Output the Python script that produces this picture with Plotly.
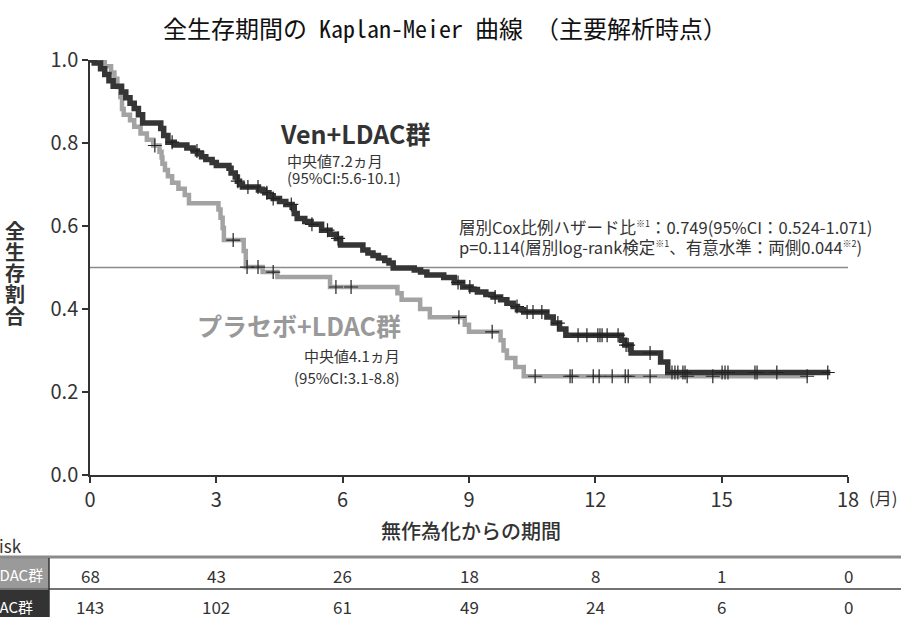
import plotly.graph_objects as go

# ---------------- data ----------------
ven_t = [0, 0.10, 0.25, 0.35, 0.45, 0.55, 0.75, 0.85, 0.95, 1.05, 1.15, 1.25, 1.68, 1.75, 1.85,
         2.00, 2.30, 2.45, 2.55, 2.65, 2.75, 2.90, 3.00, 3.30, 3.35, 3.45, 3.50, 3.55, 3.62,
         4.00, 4.15, 4.25, 4.35, 4.50, 4.65, 4.80, 4.85, 4.92, 5.10, 5.25, 5.50, 5.70, 5.85, 5.95,
         6.48, 6.60, 6.72, 6.85, 7.00, 7.10, 7.20, 7.70, 7.85, 8.00, 8.40, 8.65, 8.85, 9.05, 9.20,
         9.40, 9.57, 9.75, 9.90, 10.05, 10.15, 10.30, 10.85, 11.00, 11.15, 11.30, 12.62, 12.70,
         12.85, 13.55, 13.72]
ven_s = [1.0, 0.993, 0.979, 0.965, 0.950, 0.937, 0.923, 0.909, 0.896, 0.883, 0.868, 0.848, 0.835, 0.818, 0.802,
         0.795, 0.788, 0.781, 0.774, 0.767, 0.760, 0.753, 0.746, 0.739, 0.728, 0.718, 0.708, 0.700, 0.694,
         0.687, 0.680, 0.673, 0.666, 0.659, 0.652, 0.645, 0.630, 0.618, 0.611, 0.604, 0.590, 0.580, 0.570, 0.554,
         0.542, 0.535, 0.529, 0.523, 0.517, 0.511, 0.499, 0.494, 0.489, 0.482, 0.476, 0.464, 0.453, 0.447, 0.441,
         0.435, 0.429, 0.422, 0.414, 0.406, 0.398, 0.393, 0.381, 0.366, 0.352, 0.337, 0.325, 0.313,
         0.294, 0.272, 0.247]
ven_end = 17.58
ven_cens = [1.95, 2.54, 3.51, 3.75, 3.99, 4.20, 4.35, 4.78, 5.27, 5.64, 5.89, 8.74, 9.02, 9.62,
            10.14, 10.38, 10.52, 10.73, 11.11, 11.59, 11.80, 12.06, 12.11, 12.16, 12.28, 12.54,
            12.73, 12.78, 13.30, 13.82, 13.89, 13.96, 14.08, 14.13, 15.01, 15.08, 15.15, 15.79,
            15.84, 16.31, 17.52]

pla_t = [0, 0.35, 0.50, 0.58, 0.65, 0.72, 0.76, 0.80, 0.95, 1.05, 1.20, 1.35, 1.50, 1.65, 1.70,
         1.72, 1.78, 1.85, 1.95, 2.10, 2.25, 2.35, 3.05, 3.10, 3.15, 3.18, 3.65, 3.70, 4.10, 4.45,
         5.70, 7.30, 7.40, 7.84, 8.07, 8.90, 9.00, 9.75, 9.82, 9.90, 10.10, 10.30]
pla_s = [1.0, 0.985, 0.970, 0.955, 0.935, 0.911, 0.882, 0.868, 0.855, 0.839, 0.823, 0.808, 0.794, 0.779, 0.765,
         0.750, 0.735, 0.720, 0.704, 0.690, 0.675, 0.655, 0.640, 0.620, 0.595, 0.566, 0.540, 0.501, 0.489, 0.477,
         0.453, 0.438, 0.422, 0.400, 0.380, 0.362, 0.345, 0.325, 0.300, 0.282, 0.260, 0.238]
pla_end = 17.05
pla_cens = [1.54, 3.40, 3.73, 3.99, 4.35, 5.84, 6.20, 8.76, 9.55, 10.57, 11.40, 11.45, 11.95,
            12.09, 12.40, 12.71, 12.78, 13.30, 14.18, 14.79, 17.03]

risk_times = [0, 3, 6, 9, 12, 15, 18]
pla_risk = [68, 43, 26, 18, 8, 1, 0]
ven_risk = [143, 102, 61, 49, 24, 6, 0]

x_ticks = [0, 3, 6, 9, 12, 15, 18]
y_ticks = [0.0, 0.2, 0.4, 0.6, 0.8, 1.0]

title_text = "全生存期間の Kaplan-Meier 曲線 （主要解析時点）"
ylabel_chars = ["全", "生", "存", "割", "合"]
xlabel = "無作為化からの期間"

# ---------------- helpers ----------------
def step_value(ts, ss, c):
    v = ss[0]
    for t, s in zip(ts, ss):
        if t <= c:
            v = s
    return v

DARK = "#353535"
GREY = "#a3a3a3"
FONT = "Noto Sans CJK JP"
SUP = '<sup><span style="font-size:9px">%s</span></sup>'

fig = go.Figure()

fig.add_trace(go.Scatter(x=pla_t + [pla_end], y=pla_s + [pla_s[-1]], mode="lines",
                         line=dict(color=GREY, width=4.5, shape="hv"), showlegend=False))
fig.add_trace(go.Scatter(x=ven_t + [ven_end], y=ven_s + [ven_s[-1]], mode="lines",
                         line=dict(color=DARK, width=5.5, shape="hv"), showlegend=False))
fig.add_trace(go.Scatter(x=pla_cens, y=[step_value(pla_t, pla_s, c) for c in pla_cens], mode="markers",
                         marker=dict(symbol="cross-thin", size=10, line=dict(color="#222", width=1.2)),
                         showlegend=False))
fig.add_trace(go.Scatter(x=ven_cens, y=[step_value(ven_t, ven_s, c) for c in ven_cens], mode="markers",
                         marker=dict(symbol="cross-thin", size=10, line=dict(color="#222", width=1.2)),
                         showlegend=False))

# median line
fig.add_shape(type="line", xref="x", yref="y", x0=0, x1=18, y0=0.5, y1=0.5,
              line=dict(color="#8a8a8a", width=1.5), layer="below")

ann = []
ann.append(dict(text="Ven+LDAC群", x=4.46, y=0.824, xref="x", yref="y", xanchor="left", yanchor="middle",
                showarrow=False, font=dict(family=FONT, size=25, color="#333", weight="bold")))
ann.append(dict(text="中央値7.2ヵ月", x=4.63, y=0.759, xref="x", yref="y", xanchor="left", yanchor="middle",
                showarrow=False, font=dict(family=FONT, size=15, color="#333")))
ann.append(dict(text="(95%CI:5.6-10.1)", x=4.63, y=0.716, xref="x", yref="y", xanchor="left", yanchor="middle",
                showarrow=False, font=dict(family=FONT, size=15, color="#333")))
ann.append(dict(text="プラセボ+LDAC群", x=7.43, y=0.361, xref="x", yref="y", xanchor="right", yanchor="middle",
                showarrow=False, font=dict(family=FONT, size=25, color="#999", weight="bold")))
ann.append(dict(text="中央値4.1ヵ月", x=7.41, y=0.287, xref="x", yref="y", xanchor="right", yanchor="middle",
                showarrow=False, font=dict(family=FONT, size=15, color="#333")))
ann.append(dict(text="(95%CI:3.1-8.8)", x=7.41, y=0.234, xref="x", yref="y", xanchor="right", yanchor="middle",
                showarrow=False, font=dict(family=FONT, size=15, color="#333")))
ann.append(dict(text="層別Cox比例ハザード比" + SUP % "※1" + "：0.749(95%CI：0.524-1.071)", x=8.72, y=0.597,
                xref="x", yref="y", xanchor="left", yanchor="middle",
                showarrow=False, font=dict(family=FONT, size=16.5, color="#333")))
ann.append(dict(text="p=0.114(層別log-rank検定" + SUP % "※1" + "、有意水準：両側0.044" + SUP % "※2" + ")",
                x=8.72, y=0.550, xref="x", yref="y", xanchor="left", yanchor="middle",
                showarrow=False, font=dict(family=FONT, size=16.5, color="#333")))

# y-axis title, stacked characters
for i, ch in enumerate(ylabel_chars):
    py = 230 + i * 21.25
    ann.append(dict(text=ch, x=(15 - 90) / 758, y=(475 - py) / 415, xref="paper", yref="paper",
                    xanchor="center", yanchor="middle", showarrow=False,
                    font=dict(family=FONT, size=20, color="#333", weight="bold")))
# x-axis title
ann.append(dict(text=xlabel, x=(471 - 90) / 758, y=(475 - 530) / 415, xref="paper", yref="paper",
                xanchor="center", yanchor="middle", showarrow=False,
                font=dict(family=FONT, size=20, color="#333", weight=500)))
# unit
ann.append(dict(text="(月)", x=(900 - 90) / 758, y=(475 - 497) / 415, xref="paper", yref="paper",
                xanchor="right", yanchor="middle", showarrow=False,
                font=dict(family=FONT, size=17, color="#333")))

# at-risk table
def py2p(py):
    return (475 - py) / 415

def px2p(px):
    return (px - 90) / 758

ann.append(dict(text="No. at risk", x=px2p(24), y=py2p(545), xref="paper", yref="paper",
                xanchor="right", yanchor="middle", showarrow=False,
                font=dict(family=FONT, size=17, color="#333")))
fig.add_shape(type="rect", xref="paper", yref="paper", x0=px2p(-2), x1=px2p(49), y0=py2p(558), y1=py2p(588),
              fillcolor="#9a9a9a", line=dict(width=0))
fig.add_shape(type="rect", xref="paper", yref="paper", x0=px2p(-2), x1=px2p(49), y0=py2p(590), y1=py2p(620),
              fillcolor="#333333", line=dict(width=0))
fig.add_shape(type="line", xref="paper", yref="paper", x0=px2p(-2), x1=px2p(905), y0=py2p(557), y1=py2p(557),
              line=dict(color="#8a8a8a", width=3))
fig.add_shape(type="line", xref="paper", yref="paper", x0=px2p(-2), x1=px2p(905), y0=py2p(589), y1=py2p(589),
              line=dict(color="#444", width=1.5))
fig.add_shape(type="line", xref="paper", yref="paper", x0=px2p(49), x1=px2p(49), y0=py2p(558), y1=py2p(620),
              line=dict(color="#333", width=1.5))
ann.append(dict(text="プラセボ+LDAC群", x=px2p(45), y=py2p(574), xref="paper", yref="paper",
                xanchor="right", yanchor="middle", showarrow=False,
                font=dict(family=FONT, size=15, color="white")))
ann.append(dict(text="Ven+LDAC群", x=px2p(35), y=py2p(606), xref="paper", yref="paper",
                xanchor="right", yanchor="middle", showarrow=False,
                font=dict(family=FONT, size=15, color="white")))
for t, a, b in zip(risk_times, pla_risk, ven_risk):
    ann.append(dict(text=str(a), x=t, y=py2p(575), xref="x", yref="paper", xanchor="center", yanchor="middle",
                    showarrow=False, font=dict(family=FONT, size=17, color="#333")))
    ann.append(dict(text=str(b), x=t, y=py2p(606), xref="x", yref="paper", xanchor="center", yanchor="middle",
                    showarrow=False, font=dict(family=FONT, size=17, color="#333")))

fig.update_layout(
    width=901, height=617,
    margin=dict(l=90, r=53, t=60, b=142),
    paper_bgcolor="white", plot_bgcolor="white",
    title=dict(text=title_text, x=0.494, xref="container", xanchor="center", y=1 - 30 / 617, yanchor="middle",
               font=dict(family="Noto Sans Mono CJK JP, " + FONT, size=24, color="#111")),
    annotations=ann,
    showlegend=False,
)
fig.update_xaxes(range=[0, 18], tickvals=x_ticks, ticktext=[str(v) for v in x_ticks],
                 showgrid=False, zeroline=False, showline=True, linecolor="#333", linewidth=1.5,
                 ticks="outside", ticklen=6, tickcolor="#333", tickwidth=1.5,
                 tickfont=dict(family=FONT, size=20, color="#333"))
fig.update_yaxes(range=[0, 1.0], tickvals=y_ticks, ticktext=["%.1f" % v for v in y_ticks],
                 showgrid=False, zeroline=False, showline=True, linecolor="#333", linewidth=1.5,
                 ticks="outside", ticklen=6, tickcolor="#333", tickwidth=1.5,
                 tickfont=dict(family=FONT, size=20, color="#333"))

fig.write_html("out.html")
